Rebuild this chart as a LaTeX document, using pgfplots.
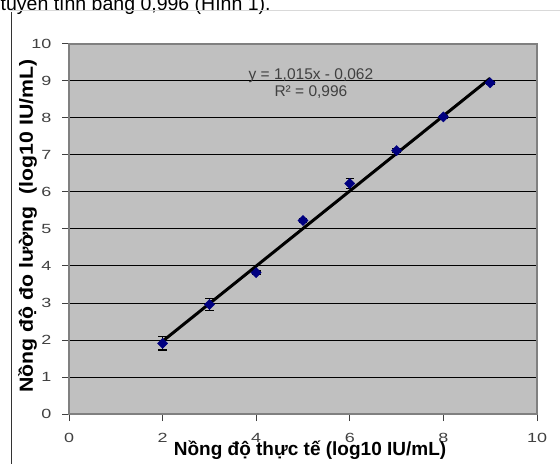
\documentclass[border=0pt]{standalone}
\usepackage{pgfplots}
\pgfplotsset{compat=1.18}
\usepackage{fontspec}
\setmainfont{Liberation Sans}
\newfontfamily\tickfont[FakeStretch=1.35]{Liberation Sans}
\newfontfamily\ylabfont[FakeStretch=1.12]{Liberation Sans}
\definecolor{plotbg}{HTML}{C0C0C0}
\definecolor{navy}{HTML}{000080}
\definecolor{bordergray}{HTML}{808080}
\definecolor{tickgray}{HTML}{404040}
\pgfplotstableread{
x y e
2 1.91 0.18
3 2.96 0.16
4 3.82 0.05
5 5.23 0.05
6 6.23 0.13
7 7.12 0.05
8 8.03 0.04
9 8.95 0.05
}\datatable
\begin{document}
\begin{tikzpicture}[x=1pt,y=1pt]
\useasboundingbox (0,0) rectangle (560,464);
\node[anchor=base west, inner sep=0pt, font=\fontsize{19.5}{22}\selectfont] at (0.5,453) {tuyến tính bằng 0,996 (Hình 1).};
\draw[line width=1pt, color=black!80] (11,452) -- (11,0);
\draw[line width=1pt, color=black!15] (11,453) -- (560,453);
\begin{axis}[
 at={(69pt,50pt)}, anchor=south west, scale only axis, width=468pt, height=370pt,
 xmin=0,xmax=10,ymin=0,ymax=10,
 xtick={0,2,...,10}, ytick={0,1,...,10},
 xtick pos=left, ytick pos=left,
 tick align=outside, major tick length=7pt, tick style={color=tickgray, line width=1pt},
 axis background/.style={fill=plotbg},
 axis line style={color=bordergray, line width=1.5pt},
 ymajorgrids, grid style={black, line width=1pt},
 ticklabel style={font=\tickfont\fontsize{13.3}{15}\selectfont, color=tickgray},
 /pgf/number format/assume math mode=true,
 xticklabel style={yshift=-9pt},
 yticklabel style={xshift=-7pt},
 xlabel={Nồng độ thực tế (log10 IU/mL)},
 ylabel={Nồng độ đo lường\ \ (log10 IU/mL)},
 xlabel style={font=\bfseries\fontsize{19}{22}\selectfont, at={(axis description cs:0.515,-0.111)}, anchor=base},
 ylabel style={font=\ylabfont\bfseries\fontsize{19}{22}\selectfont, at={(axis description cs:-0.077,0.508)}, anchor=base},
]
\addplot[only marks, mark=square*, mark size=3.6pt, color=navy,
  mark options={rotate=45, fill=navy, draw=navy},
  error bars/.cd, y dir=both, y explicit,
  error bar style={black, line width=1.5pt},
  error mark options={rotate=90, mark size=4.3pt, line width=1.5pt, black}]
  table[x=x, y=y, y error=e] {\datatable};
\addplot[black, line width=3pt, no marks] coordinates {(2,1.968) (9,9.073)};
\node[anchor=base, font=\fontsize{15.5}{18}\selectfont, color=tickgray] at (axis cs:5.17,9.05) {y = 1,015x - 0,062};
\node[anchor=base, font=\fontsize{15.5}{18}\selectfont, color=tickgray] at (axis cs:5.17,8.57) {R² = 0,996};
\end{axis}
\end{tikzpicture}
\end{document}
